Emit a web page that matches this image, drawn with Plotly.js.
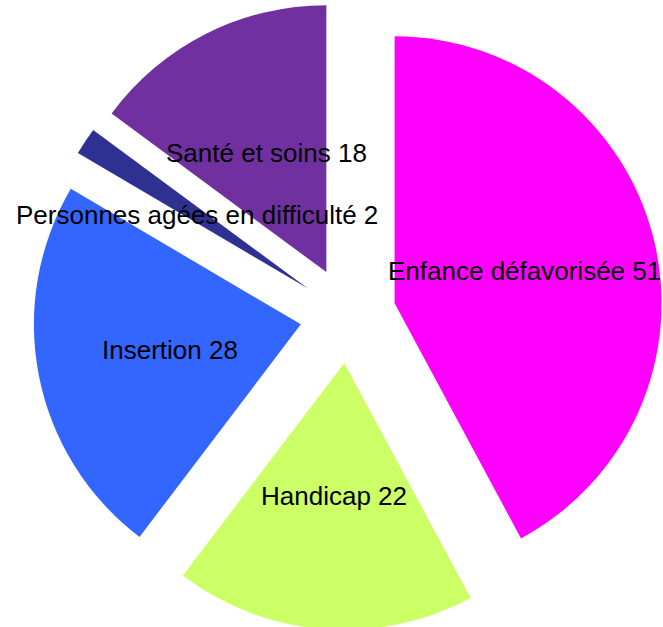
<!DOCTYPE html>
<html>
<head>
<meta charset="utf-8">
<script src="https://cdn.plot.ly/plotly-3.0.1.min.js"></script>
<style>
html,body{margin:0;padding:0;overflow:hidden;background:#fff;}
#chart{width:663px;height:630px;}
</style>
</head>
<body>
<div id="chart"></div>
<script>
const categories = ["Enfance défavorisée", "Handicap", "Insertion", "Personnes agées en difficulté", "Santé et soins"];
const values = [51, 22, 28, 2, 18];
const colors = ["#FF00FF", "#CCFF66", "#3366FF", "#2E3192", "#7030A0"];

const W = 663, H = 630;
const margin = {l: 33, r: 0, t: 0, b: 0};
const pull = 0.18;
const labelFrac = 0.5;

// label positions derived from the data (slice bisector angles)
const total = values.reduce((a, b) => a + b, 0);
const plotW = W - margin.l - margin.r, plotH = H - margin.t - margin.b;
const R = Math.min(plotW, plotH) / 2 / (1 + pull);
const annotations = [];
let acc = 0;
values.forEach((v, i) => {
  const mid = (acc + v / 2) / total * 2 * Math.PI;
  acc += v;
  const rr = (pull + labelFrac) * R;
  const dx = rr * Math.sin(mid), dy = rr * Math.cos(mid);
  annotations.push({
    xref: 'paper', yref: 'paper',
    x: 0.5 + dx / plotW, y: 0.5 + dy / plotH,
    xanchor: 'center', yanchor: 'middle',
    text: categories[i] + ' ' + v,
    showarrow: false,
    font: {family: 'Liberation Sans, Arial, sans-serif', size: 26, color: '#000'}
  });
});

const trace = {
  type: 'pie',
  labels: categories,
  values: values,
  sort: false,
  direction: 'clockwise',
  rotation: 0,
  pull: values.map(() => pull),
  marker: {colors: colors, line: {width: 0}},
  textinfo: 'none',
  hoverinfo: 'label+value',
  showlegend: false
};

Plotly.newPlot('chart', [trace], {
  width: W, height: H,
  margin: margin,
  showlegend: false,
  paper_bgcolor: '#fff',
  annotations: annotations
}, {displayModeBar: false, staticPlot: true});
</script>
</body>
</html>
